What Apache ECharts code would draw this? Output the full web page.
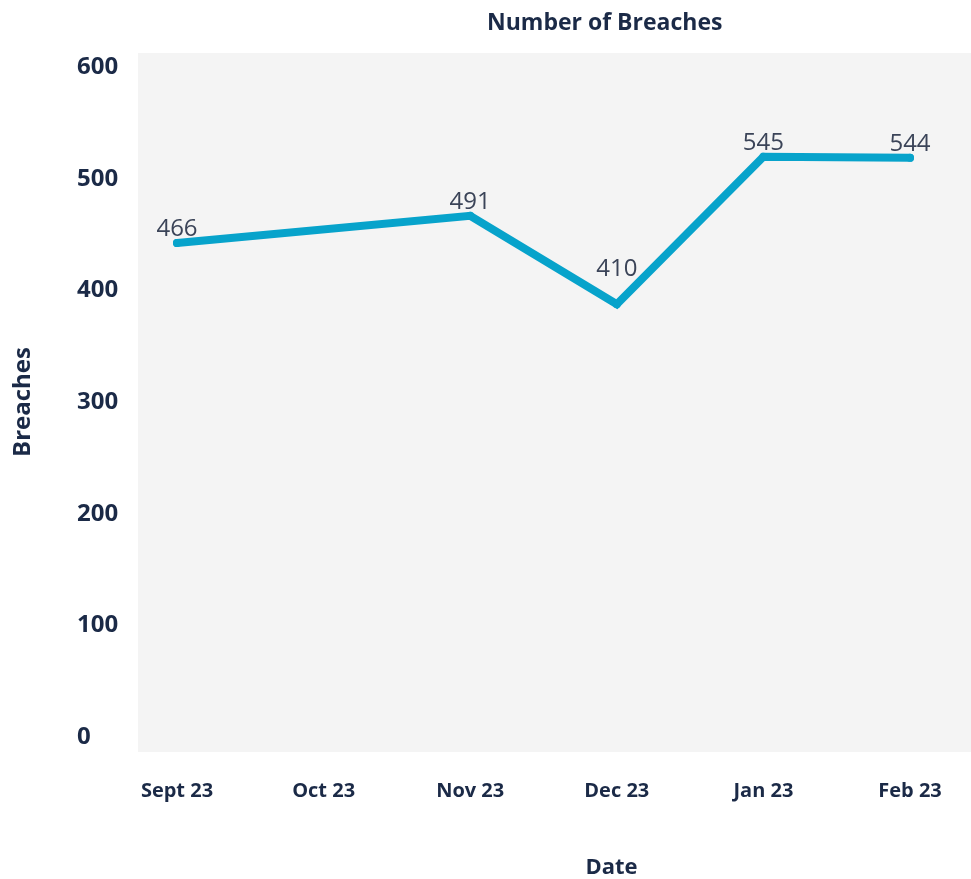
<!DOCTYPE html>
<html>
<head>
<meta charset="utf-8">
<title>Number of Breaches</title>
<script src="https://cdn.jsdelivr.net/npm/echarts@6/dist/echarts.min.js"></script>
<style>
  html, body { margin: 0; padding: 0; background: #fff; }
  #chart { width: 971px; height: 879px; }
</style>
</head>
<body>
<div id="chart"></div>
<script>
// chart data
const categories = ['Sept 23', 'Oct 23', 'Nov 23', 'Dec 23', 'Jan 23', 'Feb 23']
const breaches = [466, null, 491, 410, 545, 544]
const yTickMin = 0
const yTickMax = 600
const yTickStep = 100

const navy = '#1b2a47'
const lineColor = '#07a3cb'
const font = 'Open Sans'

const chart = echarts.init(document.getElementById('chart'))

// lift label of a local minimum so it sits above the V
function isValley(i) {
  const v = breaches[i]
  let prev = null
  let next = null
  for (let k = i - 1; k >= 0; k--) { if (breaches[k] != null) { prev = breaches[k]; break } }
  for (let k = i + 1; k < breaches.length; k++) { if (breaches[k] != null) { next = breaches[k]; break } }
  return prev != null && next != null && v < prev && v < next
}

chart.setOption({
  animation: false,
  title: {
    text: 'Number of Breaches',
    left: 487,
    top: 12,
    padding: 0,
    textStyle: { fontFamily: font, fontWeight: 'bold', fontSize: 23, color: navy }
  },
  grid: [
    // gray plot background
    { left: 138, right: 0, top: 53, bottom: 127, show: true, backgroundColor: '#f4f4f4', borderWidth: 0, outerBoundsMode: 'none' },
    // tick label axis
    { left: 138, right: 0, top: 67, bottom: 142, outerBoundsMode: 'none' },
    // data grid
    { left: 177, right: 61, top: 53, bottom: 127, outerBoundsMode: 'none' }
  ],
  xAxis: [
    { gridIndex: 0, type: 'value', show: false, min: 0, max: 1 },
    { gridIndex: 1, type: 'value', show: false, min: 0, max: 1 },
    {
      gridIndex: 2,
      type: 'category',
      data: categories,
      boundaryGap: false,
      axisLine: { show: false },
      axisTick: { show: false },
      axisLabel: {
        interval: 0,
        margin: 29,
        fontFamily: font,
        fontWeight: 'bold',
        fontSize: 20,
        color: navy
      },
      name: 'Date',
      nameLocation: 'middle',
      nameGap: 105,
      nameTextStyle: {
        fontFamily: font,
        fontWeight: 'bold',
        fontSize: 22,
        color: navy,
        padding: [0, 0, 0, 136]
      }
    }
  ],
  yAxis: [
    { gridIndex: 0, type: 'value', show: false, min: 0, max: 1 },
    {
      gridIndex: 1,
      type: 'value',
      min: yTickMin,
      max: yTickMax,
      interval: yTickStep,
      axisLine: { show: false },
      axisTick: { show: false },
      splitLine: { show: false },
      axisLabel: {
        align: 'left',
        margin: 61,
        fontFamily: font,
        fontWeight: 'bold',
        fontSize: 24,
        color: navy
      },
      name: 'Breaches',
      nameLocation: 'middle',
      nameGap: 103,
      nameTextStyle: { fontFamily: font, fontWeight: 'bold', fontSize: 24, color: navy }
    },
    { gridIndex: 2, type: 'value', min: 0, max: 640, show: false }
  ],
  series: [
    {
      type: 'line',
      xAxisIndex: 2,
      yAxisIndex: 2,
      data: breaches,
      connectNulls: true,
      symbol: 'circle',
      symbolSize: 8,
      itemStyle: { color: lineColor },
      lineStyle: { color: lineColor, width: 8, cap: 'round', join: 'miter' },
      label: {
        show: true,
        position: 'top',
        distance: -2,
        fontFamily: font,
        fontSize: 24,
        color: '#3b4458'
      },
      labelLayout: function (params) {
        return isValley(params.dataIndex) ? { dy: -21 } : {}
      }
    }
  ]
})
</script>
</body>
</html>
